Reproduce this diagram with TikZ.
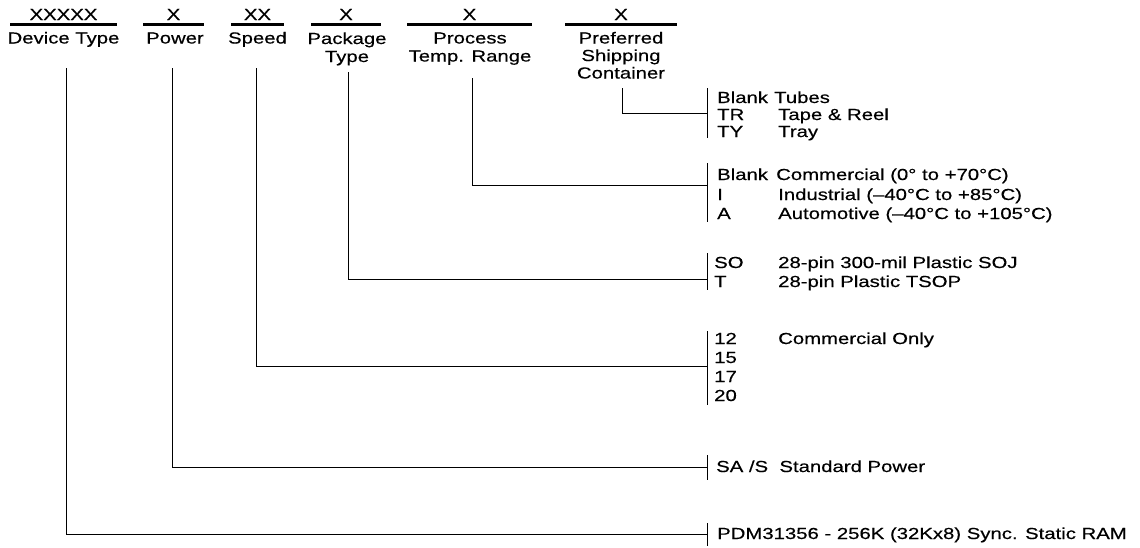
\documentclass[tikz,border=0pt]{standalone}
\usepackage{fontspec}
\setmainfont{Liberation Sans}[FakeStretch=1.27,FakeBold=0.4]
\newcommand\labfont{\fontsize{16}{18}\selectfont}
\tikzset{
  hd/.style={anchor=base, inner sep=0pt, font=\labfont},
  txt/.style={anchor=base west, inner sep=0pt, font=\labfont},
  bar/.style={line width=2.4pt},
  wire/.style={line width=0.9pt},
  brk/.style={line width=0.9pt},
}
\begin{document}
\begin{tikzpicture}[x=1pt,y=-1pt]
\useasboundingbox (0,0) rectangle (1140,547);
% ---------- header fields ----------
\node[hd] (xdev) at (63.5,20) {XXXXX};
\draw[bar] (10,24.5) -- (117,24.5);
\node[hd] (ldev) at (63.5,43.5) {Device Type};

\node[hd] (xpow) at (173.5,20) {X};
\draw[bar] (143,24.5) -- (204,24.5);
\node[hd] (lpow) at (175,43.5) {Power};

\node[hd] (xspd) at (257.5,20) {XX};
\draw[bar] (231,24.5) -- (284,24.5);
\node[hd] (lspd) at (257.5,43.5) {Speed};

\node[hd] (xpkg) at (346,20) {X};
\draw[bar] (311,24.5) -- (381,24.5);
\node[hd] (lpkga) at (347,44) {Package};
\node[hd] (lpkgb) at (347,62) {Type};

\node[hd] (xproc) at (469.5,20) {X};
\draw[bar] (407,24.5) -- (532,24.5);
\node[hd] (lproca) at (470,43.5) {Process};
\node[hd] (lprocb) at (470,61.5) {Temp. Range};

\node[hd] (xship) at (621,20) {X};
\draw[bar] (565,24.5) -- (677,24.5);
\node[hd] (lshipa) at (621,43.5) {Preferred};
\node[hd] (lshipb) at (621,61) {Shipping};
\node[hd] (lshipc) at (621,78.5) {Container};

% ---------- connector start points ----------
\coordinate (sdev) at (66,68);
\coordinate (spow) at (172,68);
\coordinate (sspd) at (256,68);
\coordinate (spkg) at (348,72);
\coordinate (sproc) at (472,78);
\coordinate (sship) at (622,88);

% ---------- brackets ----------
\coordinate (bshipT) at (707,88);  \coordinate (bshipB) at (707,138); \coordinate (bship) at (707,113);
\coordinate (bprocT) at (707,163); \coordinate (bprocB) at (707,222); \coordinate (bproc) at (707,185);
\coordinate (bpkgT) at (707,253);  \coordinate (bpkgB) at (707,290);  \coordinate (bpkg) at (707,279);
\coordinate (bspdT) at (707,331);  \coordinate (bspdB) at (707,405);  \coordinate (bspd) at (707,366);
\coordinate (bpowT) at (707,455);  \coordinate (bpowB) at (707,480);  \coordinate (bpow) at (707,467);
\coordinate (bdevT) at (707,523);  \coordinate (bdevB) at (707,546);  \coordinate (bdev) at (707,534);

\foreach \b in {ship,proc,pkg,spd,pow,dev}{
  \draw[brk] (b\b T) -- (b\b B);
}

% ---------- connectors ----------
\draw[wire] (sship) |- (bship);
\draw[wire] (sproc) |- (bproc);
\draw[wire] (spkg) |- (bpkg);
\draw[wire] (sspd) |- (bspd);
\draw[wire] (spow) |- (bpow);
\draw[wire] (sdev) |- (bdev);

% ---------- option labels ----------
\node[txt] (c1a) at (717,103) {Blank};
\node[txt] (d1a) at (774,103) {Tubes};
\node[txt] (c1b) at (717,120) {TR};
\node[txt] (d1b) at (778,120) {Tape \& Reel};
\node[txt] (c1c) at (717,137) {TY};
\node[txt] (d1c) at (778,137) {Tray};

\node[txt] (c2a) at (717,180) {Blank};
\node[txt] (d2a) at (776,180) {Commercial (0° to +70°C)};
\node[txt] (c2b) at (717,200) {I};
\node[txt] (d2b) at (778,200) {Industrial (–40°C to +85°C)};
\node[txt] (c2c) at (717,219) {A};
\node[txt] (d2c) at (778,219) {Automotive (–40°C to +105°C)};

\node[txt] (c3a) at (714,268) {SO};
\node[txt] (d3a) at (778,268) {28-pin 300-mil Plastic SOJ};
\node[txt] (c3b) at (714,287) {T};
\node[txt] (d3b) at (778,287) {28-pin Plastic TSOP};

\node[txt] (c4a) at (714,344) {12};
\node[txt] (d4a) at (778,344) {Commercial Only};
\node[txt] (c4b) at (714,363) {15};
\node[txt] (c4c) at (714,382) {17};
\node[txt] (c4d) at (714,401) {20};

\node[txt] (c5) at (716,472) {SA /S\ \ Standard Power};
\node[txt] (c6) at (717,539) {PDM31356 - 256K (32Kx8) Sync. Static RAM};
\end{tikzpicture}
\end{document}
